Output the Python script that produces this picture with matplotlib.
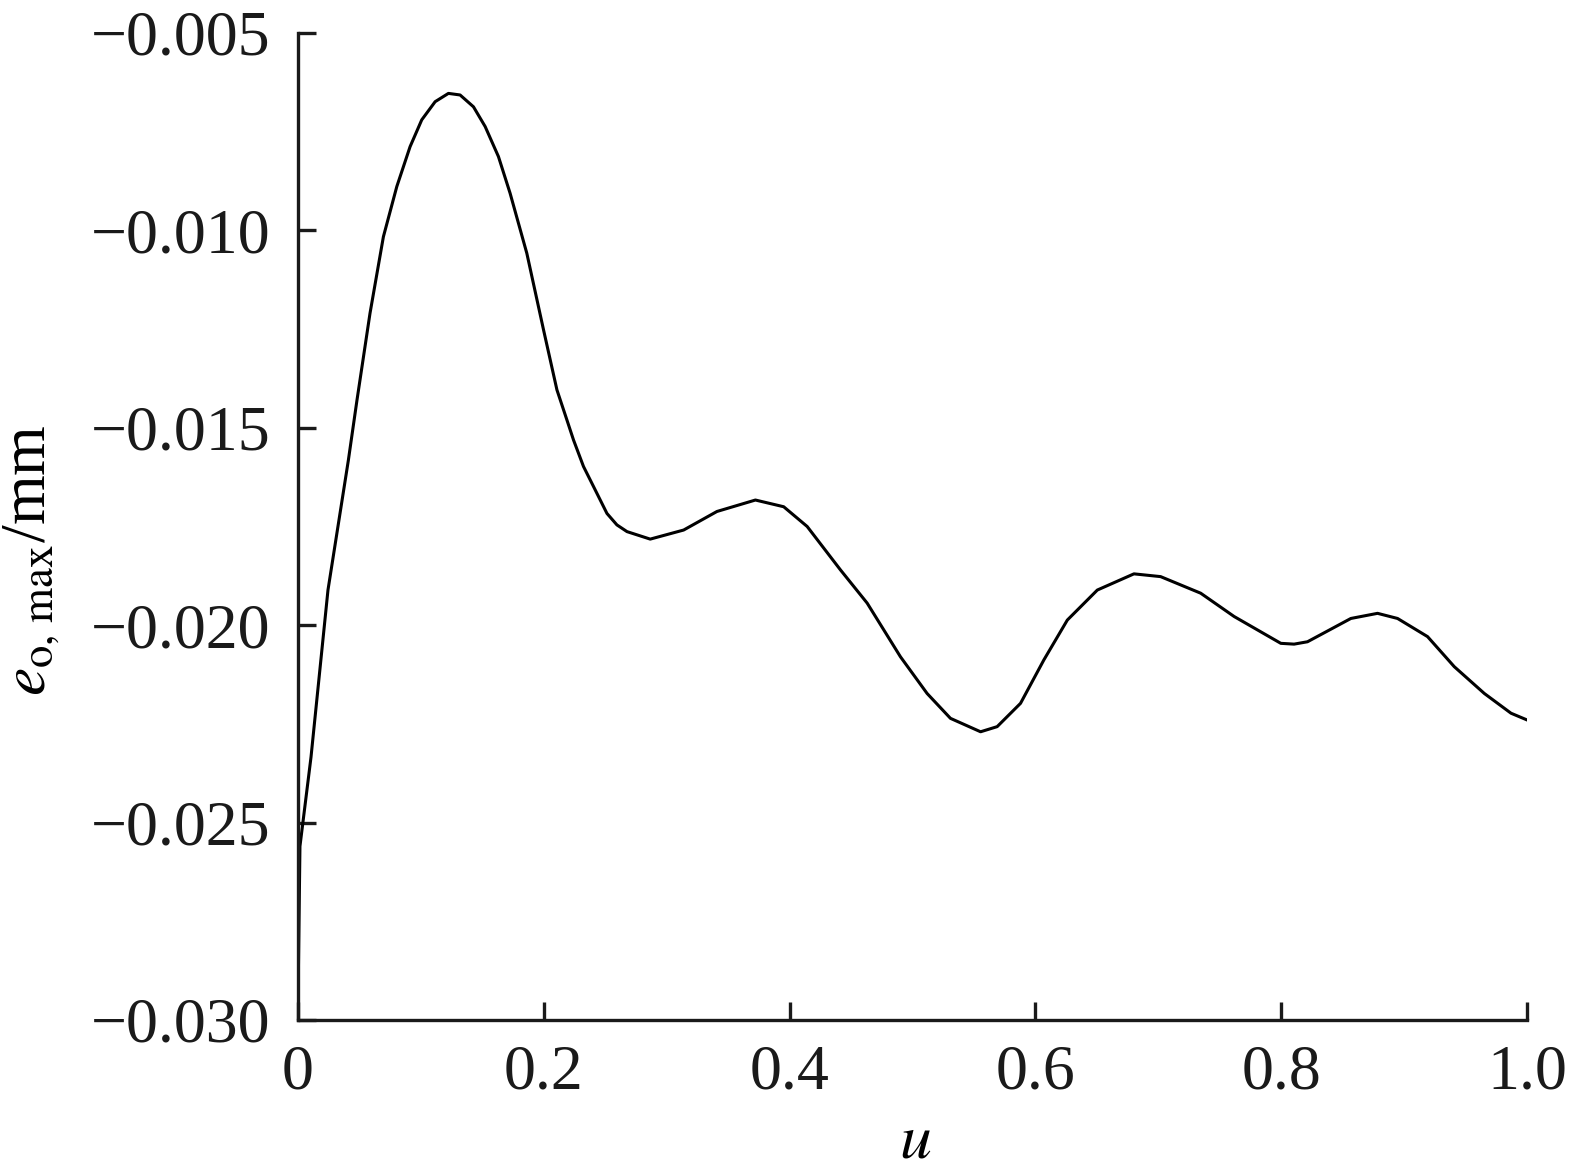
import numpy as np
import matplotlib
matplotlib.use("Agg")
import matplotlib.pyplot as plt

# --------------------------
# Data
# --------------------------

u = [0.0, 0.0016, 0.0106, 0.0244, 0.041, 0.048, 0.0586, 0.0695, 0.0804, 0.0912,
     0.1007, 0.1116, 0.1224, 0.1319, 0.1428, 0.1523, 0.1631, 0.1726, 0.1862,
     0.1998, 0.2107, 0.2188, 0.2242, 0.2323, 0.2405, 0.2514, 0.2595, 0.2677,
     0.2866, 0.3138, 0.3409, 0.3722, 0.3952, 0.4143, 0.4414, 0.4631, 0.4902,
     0.5119, 0.5309, 0.5554, 0.5689, 0.5879, 0.6069, 0.626, 0.6504, 0.6802,
     0.7019, 0.7345, 0.7617, 0.7997, 0.8105, 0.8214, 0.8567, 0.8784, 0.8947,
     0.9191, 0.9408, 0.9653, 0.987, 1.0]
e_max = [-0.0296, -0.0256, -0.02334, -0.01911, -0.01582, -0.0143, -0.0121,
         -0.01016, -0.00889, -0.00788, -0.0072, -0.00674, -0.00653, -0.00657,
         -0.00687, -0.00737, -0.00813, -0.00906, -0.01058, -0.01252, -0.01404,
         -0.0148, -0.01531, -0.01598, -0.01649, -0.01717, -0.01746, -0.01763,
         -0.01782, -0.01759, -0.01712, -0.01683, -0.017, -0.0175, -0.0186,
         -0.01944, -0.0208, -0.02173, -0.02236, -0.0227, -0.02257, -0.02198,
         -0.02088, -0.01987, -0.01911, -0.0187, -0.01877, -0.01919, -0.01978,
         -0.02046, -0.02048, -0.02042, -0.01983, -0.0197, -0.01983, -0.02029,
         -0.02105, -0.02173, -0.02223, -0.0224]

x_ticks = [0, 0.2, 0.4, 0.6, 0.8, 1.0]
x_ticklabels = ["0", "0.2", "0.4", "0.6", "0.8", "1.0"]
y_ticks = [-0.030, -0.025, -0.020, -0.015, -0.010, -0.005]

# --------------------------
# Plot
# --------------------------

plt.rcParams["font.family"] = ["Liberation Serif", "DejaVu Serif"]
plt.rcParams["mathtext.fontset"] = "stix"

fig = plt.figure(figsize=(15.7, 11.74), dpi=100)
ax = fig.add_axes([0.1898, 0.1312, 0.7828, 0.8407])

ax.plot(u, e_max, color="black", linewidth=2.2)

ax.set_xlim(0, 1.0)
ax.set_ylim(-0.030, -0.005)
ax.set_xticks(x_ticks)
ax.set_xticklabels(x_ticklabels)
ax.set_yticks(y_ticks)
ax.set_yticklabels([f"{v:.3f}".replace("-", "\u2212") for v in y_ticks])

for side in ["top", "right"]:
    ax.spines[side].set_visible(False)
for side in ["left", "bottom"]:
    ax.spines[side].set_linewidth(2.4)
    ax.spines[side].set_color("#1a1a1a")

ax.tick_params(direction="in", length=13, width=2.4, labelsize=46,
               color="#1a1a1a", labelcolor="#1a1a1a")
ax.tick_params(axis="x", pad=18)
ax.tick_params(axis="y", pad=20)

ax.set_xlabel("$u$", fontsize=46)
ax.xaxis.set_label_coords(0.502, -0.095)
ax.set_ylabel(r"$e_{\mathrm{o,\,max}}$/mm", fontsize=46)
ax.yaxis.set_label_coords(-0.192, 0.466)

fig.savefig("out.png", dpi=100)
